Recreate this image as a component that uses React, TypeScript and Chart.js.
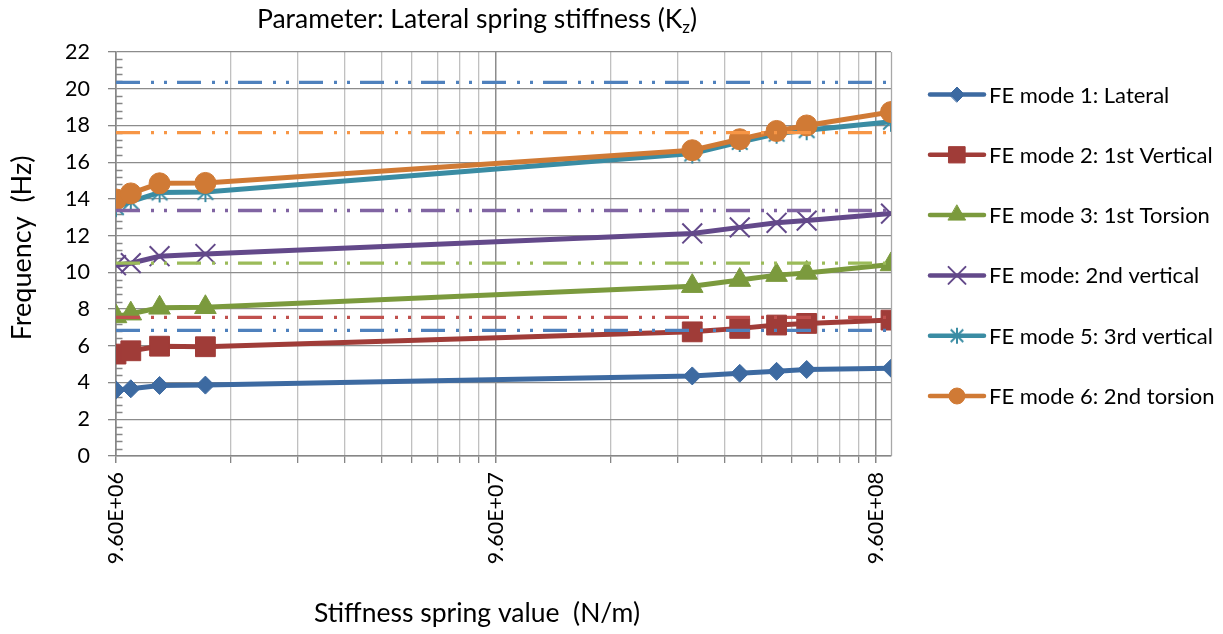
import React, { useEffect, useRef } from 'react';
import { Chart, registerables, PointElement } from 'chart.js';

Chart.register(...registerables);

const FONT_FAMILY = 'Lato, "Open Sans", sans-serif';

// Spring stiffness values (N/m)
const stiffness = [9.6e6, 1.05e7, 1.25e7, 1.65e7, 3.15e8, 4.2e8, 5.25e8, 6.3e8, 1.05e9];

// FE natural frequencies (Hz) for each stiffness value
const mode1Lateral = [3.6, 3.66, 3.84, 3.86, 4.36, 4.5, 4.61, 4.71, 4.78];
const mode2FirstVertical = [5.55, 5.73, 5.98, 5.95, 6.76, 6.95, 7.13, 7.22, 7.4];
const mode3FirstTorsion = [7.6, 7.75, 8.07, 8.1, 9.25, 9.58, 9.85, 9.97, 10.43];
const mode4SecondVertical = [10.39, 10.5, 10.88, 11.0, 12.12, 12.45, 12.7, 12.82, 13.2];
const mode5ThirdVertical = [13.55, 13.85, 14.35, 14.37, 16.47, 17.1, 17.55, 17.74, 18.2];
const mode6SecondTorsion = [13.97, 14.3, 14.85, 14.87, 16.65, 17.25, 17.7, 18.0, 18.73];

const seriesLabels = [
  'FE mode 1: Lateral',
  'FE mode 2: 1st Vertical',
  'FE mode 3: 1st Torsion',
  'FE mode: 2nd vertical',
  'FE mode 5: 3rd vertical',
  'FE mode 6: 2nd torsion',
];
const seriesValues = [
  mode1Lateral,
  mode2FirstVertical,
  mode3FirstTorsion,
  mode4SecondVertical,
  mode5ThirdVertical,
  mode6SecondTorsion,
];
const seriesColors = ['#3d6aa1', '#a03c38', '#7b9a3d', '#63498a', '#3a8ca3', '#d07a35'];

// Measured reference frequencies (Hz), drawn as dash-dot-dot lines
const measuredFrequencies = [6.84, 7.55, 10.5, 13.37, 17.61, 20.35];
const measuredColors = ['#4f81bd', '#c0504d', '#9bbb59', '#8064a2', '#f79646', '#4f81bd'];

// Axis ranges
const X_MIN = 9.6e6;
const X_MAX = 1.05e9;
const Y_MIN = 0;
const Y_MAX = 22;
const Y_STEP = 2;
const Y_MINOR_STEP = 0.4;
const X_DECADES = [1, 10, 100];
const X_MULTIPLIERS = [1, 2, 3, 4, 5, 6, 7, 8, 9];

const TITLE_MAIN = 'Parameter: Lateral spring stiffness (K';
const TITLE_SUB = 'z';
const TITLE_END = ')';
const X_TITLE = 'Stiffness spring value  (N/m)';
const Y_TITLE = 'Frequency  (Hz)';

function formatSci(v: number): string {
  const [mant, exp] = v.toExponential(2).split('e');
  const n = parseInt(exp, 10);
  return `${mant}E${n < 0 ? '-' : '+'}${String(Math.abs(n)).padStart(2, '0')}`;
}

function makeAsterisk(color: string, half: number, width: number): HTMLCanvasElement {
  const size = Math.ceil(half * 2 + width + 2);
  const c = document.createElement('canvas');
  c.width = size;
  c.height = size;
  const g = c.getContext('2d')!;
  const m = size / 2;
  const d = half * 0.78;
  g.strokeStyle = color;
  g.lineWidth = width;
  g.beginPath();
  g.moveTo(m - d, m - d);
  g.lineTo(m + d, m + d);
  g.moveTo(m + d, m - d);
  g.lineTo(m - d, m + d);
  g.moveTo(m, m - half);
  g.lineTo(m, m + half);
  g.stroke();
  return c;
}

type MarkerSpec = { style: any; radius: number; borderWidth: number };

export default function App() {
  const canvasRef = useRef<HTMLCanvasElement>(null);

  useEffect(() => {
    const canvas = canvasRef.current;
    if (!canvas) return;

    const markers: MarkerSpec[] = [
      { style: 'rectRot', radius: 9, borderWidth: 1 },
      { style: 'rect', radius: 14, borderWidth: 1 },
      { style: 'triangle', radius: 12.5, borderWidth: 1 },
      { style: 'crossRot', radius: 14, borderWidth: 2 },
      { style: makeAsterisk(seriesColors[4], 10, 2), radius: 10, borderWidth: 2 },
      { style: 'circle', radius: 10.5, borderWidth: 1 },
    ];
    const legendMarkers: MarkerSpec[] = [
      { style: 'rectRot', radius: 7.5, borderWidth: 1 },
      { style: 'rect', radius: 11.5, borderWidth: 1 },
      { style: 'triangle', radius: 10, borderWidth: 1 },
      { style: 'crossRot', radius: 12, borderWidth: 2 },
      { style: makeAsterisk(seriesColors[4], 8, 2), radius: 8, borderWidth: 2 },
      { style: 'circle', radius: 8, borderWidth: 1 },
    ];

    const seriesDatasets = seriesValues.map((vals, i) => ({
      label: seriesLabels[i],
      data: stiffness.map((x, k) => ({ x, y: vals[k] })),
      borderColor: seriesColors[i],
      backgroundColor: seriesColors[i],
      borderWidth: 5,
      tension: 0,
      pointStyle: markers[i].style,
      pointRadius: markers[i].radius,
      pointBorderWidth: markers[i].borderWidth,
      pointBackgroundColor: seriesColors[i],
      pointBorderColor: seriesColors[i],
      order: 20 - i,
    }));

    const measuredDatasets = measuredFrequencies.map((f, j) => ({
      label: `measured ${j}`,
      data: [
        { x: X_MIN, y: f },
        { x: X_MAX, y: f },
      ],
      borderColor: measuredColors[j],
      backgroundColor: measuredColors[j],
      borderWidth: 3.3,
      borderDash: [24, 11, 3, 10, 3, 10],
      borderCapStyle: 'butt',
      pointRadius: 0,
      order: 10 - j,
    }));

    const xTicks: { value: number; major: boolean }[] = [];
    X_DECADES.forEach((d) =>
      X_MULTIPLIERS.forEach((k) => {
        const v = X_MIN * d * k;
        if (v <= X_MAX * 1.0001) xTicks.push({ value: v, major: k === 1 });
      })
    );

    const axisGray = '#868686';
    const majorGrid = '#8c8c8c';
    const minorGrid = '#c0c0c0';

    const decorations = {
      id: 'decorations',
      beforeDatasetsDraw(chart: any) {
        const { ctx, chartArea, scales } = chart;
        const y = scales.y;
        ctx.save();
        // minor tick marks on the inside of the value axis
        ctx.strokeStyle = axisGray;
        ctx.lineWidth = 1.3;
        ctx.beginPath();
        const n = Math.round((Y_MAX - Y_MIN) / Y_MINOR_STEP);
        for (let i = 0; i <= n; i++) {
          const v = Y_MIN + i * Y_MINOR_STEP;
          if (Math.abs(v / Y_STEP - Math.round(v / Y_STEP)) < 1e-6) continue;
          const py = Math.round(y.getPixelForValue(v)) + 0.5;
          ctx.moveTo(chartArea.left, py);
          ctx.lineTo(chartArea.left + 6.5, py);
        }
        ctx.stroke();
        // right edge of plot area
        ctx.strokeStyle = '#a8a8a8';
        ctx.beginPath();
        ctx.moveTo(Math.round(chartArea.right) + 0.5, chartArea.top);
        ctx.lineTo(Math.round(chartArea.right) + 0.5, chartArea.bottom);
        ctx.stroke();
        ctx.restore();
      },
      afterDraw(chart: any) {
        const { ctx } = chart;
        ctx.save();
        ctx.fillStyle = '#000';

        // chart title with subscript
        const bigFont = `26.5px ${FONT_FAMILY}`;
        const subFont = `17px ${FONT_FAMILY}`;
        ctx.font = bigFont;
        const wMain = ctx.measureText(TITLE_MAIN).width;
        const wEnd = ctx.measureText(TITLE_END).width;
        ctx.font = subFont;
        const wSub = ctx.measureText(TITLE_SUB).width;
        const total = wMain + wSub + wEnd;
        let tx = 477 - total / 2;
        const base = 28;
        ctx.textAlign = 'left';
        ctx.textBaseline = 'alphabetic';
        ctx.font = bigFont;
        ctx.fillText(TITLE_MAIN, tx, base);
        tx += wMain;
        ctx.font = subFont;
        ctx.fillText(TITLE_SUB, tx, base + 5);
        tx += wSub;
        ctx.font = bigFont;
        ctx.fillText(TITLE_END, tx, base);

        // horizontal axis title
        ctx.textAlign = 'center';
        ctx.textBaseline = 'middle';
        ctx.font = `26.5px ${FONT_FAMILY}`;
        ctx.fillText(X_TITLE, 477, 613);

        // vertical axis title
        ctx.save();
        ctx.translate(22, 248);
        ctx.rotate(-Math.PI / 2);
        ctx.font = `27px ${FONT_FAMILY}`;
        ctx.fillText(Y_TITLE, 0, 0);
        ctx.restore();

        // legend
        const lx = 930;
        const lLen = 54;
        seriesLabels.forEach((label, i) => {
          const ly = 94.5 + i * 60.3;
          ctx.strokeStyle = seriesColors[i];
          ctx.lineWidth = 4.5;
          ctx.lineCap = 'round';
          ctx.beginPath();
          ctx.moveTo(lx, ly);
          ctx.lineTo(lx + lLen, ly);
          ctx.stroke();
          const m = legendMarkers[i];
          const pt = new PointElement({
            x: lx + lLen / 2,
            y: ly,
            options: {
              pointStyle: m.style,
              radius: m.radius,
              borderWidth: m.borderWidth,
              borderColor: seriesColors[i],
              backgroundColor: seriesColors[i],
              rotation: 0,
            },
          } as any);
          pt.draw(ctx);
          ctx.fillStyle = '#000';
          ctx.font = `22px ${FONT_FAMILY}`;
          ctx.textAlign = 'left';
          ctx.textBaseline = 'middle';
          ctx.fillText(label, 989, ly + 1);
        });
        ctx.restore();
      },
    };

    const chart = new Chart(canvas, {
      type: 'line',
      data: { datasets: [...seriesDatasets, ...measuredDatasets] as any },
      options: {
        animation: false,
        responsive: false,
        devicePixelRatio: 1,
        events: [],
        layout: { padding: { left: 0, right: 332, top: 52, bottom: 0 } },
        plugins: {
          legend: { display: false },
          tooltip: { enabled: false },
          title: { display: false },
        },
        scales: {
          x: {
            type: 'logarithmic',
            min: X_MIN,
            max: X_MAX,
            afterBuildTicks: (scale: any) => {
              scale.ticks = xTicks.map((t) => ({ ...t }));
            },
            afterFit: (scale: any) => {
              scale.height = 178;
            },
            grid: {
              color: (c: any) => (c.tick && c.tick.major ? majorGrid : minorGrid),
              lineWidth: (c: any) => (c.tick && c.tick.major ? 1.5 : 1.3),
              tickColor: axisGray,
              tickLength: 7,
              drawTicks: true,
            },
            border: { color: axisGray, width: 1.5 },
            ticks: {
              autoSkip: false,
              minRotation: 90,
              maxRotation: 90,
              padding: 9,
              color: '#000',
              font: { family: FONT_FAMILY, size: 21.5 },
              callback: (v: any, i: number, ticks: any[]) =>
                ticks[i] && ticks[i].major ? formatSci(Number(ticks[i].value)) : '',
            },
          },
          y: {
            type: 'linear',
            min: Y_MIN,
            max: Y_MAX,
            afterFit: (scale: any) => {
              scale.width = 116;
            },
            grid: {
              color: majorGrid,
              lineWidth: 1.3,
              tickColor: axisGray,
              tickLength: 8,
            },
            border: { color: axisGray, width: 1.5 },
            ticks: {
              stepSize: Y_STEP,
              padding: 18,
              color: '#000',
              font: { family: FONT_FAMILY, size: 21.5 },
            },
          },
        },
      },
      plugins: [decorations],
    } as any);

    return () => chart.destroy();
  }, []);

  return (
    <div style={{ position: 'absolute', left: 0, top: 0, width: 1223, height: 634, background: '#fff' }}>
      <canvas ref={canvasRef} width={1223} height={634} style={{ display: 'block' }} />
    </div>
  );
}
